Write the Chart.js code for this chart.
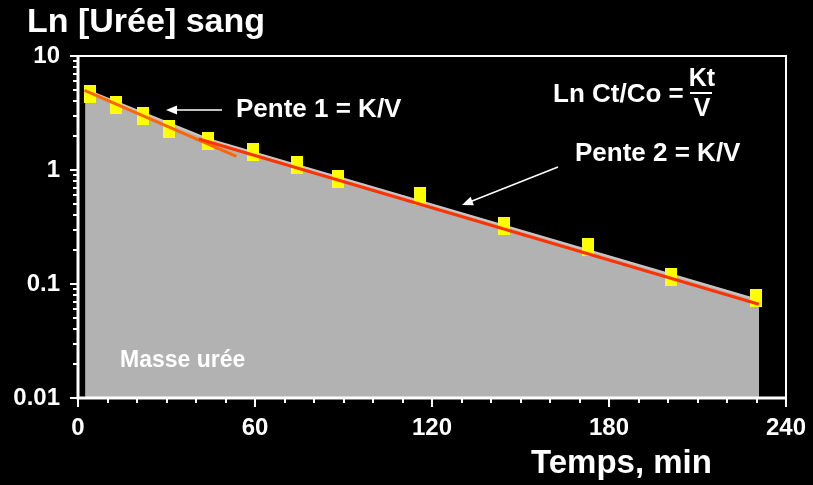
<!DOCTYPE html>
<html>
<head>
<meta charset="utf-8">
<script src="https://cdn.jsdelivr.net/npm/chart.js@4.4.1/dist/chart.umd.min.js"></script>
<style>
  html, body { margin: 0; padding: 0; background: #000; }
  #wrap { width: 813px; height: 485px; }
</style>
</head>
<body>
<div id="wrap"><canvas id="chart" width="813" height="485"></canvas></div>
<script>
// Urée sanguine pendant la séance (échelle log)
var sampleTimes = [4.2, 13, 22, 30.8, 44.2, 59.3, 74.4, 88, 116.1, 144.5, 172.8, 201, 229.7];
var ureeLevels = [4.61, 3.72, 2.96, 2.28, 1.81, 1.43, 1.10, 0.834, 0.590, 0.321, 0.211, 0.115, 0.075];

// contour de la zone "Masse urée"
var areaTimes = [2.4, 44.3, 230.9];
var areaLevels = [5.1, 1.86, 0.072];

// droites de pente
var pente1Times = [2.2, 53.7];
var pente1Levels = [5.0, 1.32];
var pente2Times = [41, 230.8];
var pente2Levels = [1.87, 0.0664];

var xTickValues = [0, 60, 120, 180, 240];
var yTickValues = [0.01, 0.1, 1, 10];
var yTickLabels = ['0.01', '0.1', '1', '10'];

var FONT = '"Liberation Sans", Arial, Helvetica, sans-serif';

function toPoints(xs, ys) {
    return xs.map(function (x, i) { return { x: x, y: ys[i] }; });
}

// marqueur rectangulaire jaune
function makeMarker() {
    var c = document.createElement('canvas');
    c.width = 12;
    c.height = 18;
    var g = c.getContext('2d');
    g.fillStyle = '#ffff00';
    g.fillRect(0, 0, 12, 18);
    return c;
}

function arrow(ctx, x1, y1, x2, y2) {
    var ang = Math.atan2(y2 - y1, x2 - x1);
    var len = 11, half = 4.5;
    ctx.beginPath();
    ctx.moveTo(x1, y1);
    ctx.lineTo(x2 - Math.cos(ang) * len * 0.8, y2 - Math.sin(ang) * len * 0.8);
    ctx.stroke();
    ctx.beginPath();
    ctx.moveTo(x2, y2);
    ctx.lineTo(x2 - Math.cos(ang) * len - Math.sin(ang) * half, y2 - Math.sin(ang) * len + Math.cos(ang) * half);
    ctx.lineTo(x2 - Math.cos(ang) * len + Math.sin(ang) * half, y2 - Math.sin(ang) * len - Math.cos(ang) * half);
    ctx.closePath();
    ctx.fill();
}

var background = {
    id: 'background',
    beforeDraw: function (chart) {
        var ctx = chart.ctx;
        ctx.save();
        ctx.fillStyle = '#000';
        ctx.fillRect(0, 0, chart.width, chart.height);
        ctx.restore();
    }
};

var frameAndText = {
    id: 'frameAndText',
    afterDraw: function (chart) {
        var ctx = chart.ctx;
        var area = chart.chartArea;
        var xs = chart.scales.x, ys = chart.scales.y;
        ctx.save();
        ctx.strokeStyle = '#fff';
        ctx.fillStyle = '#fff';

        // cadre
        ctx.lineWidth = 2;
        ctx.beginPath();
        ctx.moveTo(area.left, area.top);
        ctx.lineTo(area.right, area.top);
        ctx.lineTo(area.right, area.bottom);
        ctx.stroke();
        ctx.lineWidth = 3;
        ctx.beginPath();
        ctx.moveTo(area.left, area.top - 1);
        ctx.lineTo(area.left, area.bottom);
        ctx.lineTo(area.right + 1, area.bottom);
        ctx.stroke();

        // graduations
        ctx.lineWidth = 2;
        ctx.beginPath();
        for (var t = 0; t <= 240; t += 10) {
            var px = Math.round(xs.getPixelForValue(t));
            ctx.moveTo(px, area.bottom);
            ctx.lineTo(px, area.bottom + (t % 60 === 0 ? 9 : 5));
        }
        yTickValues.forEach(function (d, i) {
            var py = Math.round(ys.getPixelForValue(d));
            ctx.moveTo(area.left, py);
            ctx.lineTo(area.left - 8, py);
            if (i < yTickValues.length - 1) {
                for (var k = 2; k <= 9; k++) {
                    var pm = Math.round(ys.getPixelForValue(d * k));
                    ctx.moveTo(area.left, pm);
                    ctx.lineTo(area.left - 5, pm);
                }
            }
        });
        ctx.stroke();

        // textes
        ctx.textBaseline = 'alphabetic';
        ctx.textAlign = 'left';
        ctx.font = 'bold 34px ' + FONT;
        ctx.fillText('Ln [Urée] sang', 27, 32);
        ctx.font = 'bold 33px ' + FONT;
        ctx.fillText('Temps, min', 531, 473);

        ctx.font = 'bold 23px ' + FONT;
        ctx.fillText('Masse urée', 120, 367);

        ctx.font = 'bold 26px ' + FONT;
        ctx.fillText('Pente 1 = K/V', 236, 117);
        ctx.fillText('Pente 2 = K/V', 575, 161);
        ctx.fillText('Ln Ct/Co =', 553, 102);

        ctx.font = 'bold 25px ' + FONT;
        ctx.textAlign = 'center';
        ctx.fillText('Kt', 702, 86);
        ctx.fillText('V', 702, 116);
        ctx.fillRect(690, 92, 22, 2);

        // flèches
        ctx.lineWidth = 1.5;
        arrow(ctx, 222, 110, 166, 110);
        arrow(ctx, 558, 167, 462, 205);

        ctx.restore();
    }
};

var ctx = document.getElementById('chart');

new Chart(ctx, {
    type: 'scatter',
    data: {
        datasets: [
            {
                label: 'Pente 2',
                data: toPoints(pente2Times, pente2Levels),
                showLine: true,
                borderColor: '#ff3300',
                borderWidth: 3,
                pointRadius: 0,
                fill: false
            },
            {
                label: 'Pente 1',
                data: toPoints(pente1Times, pente1Levels),
                showLine: true,
                borderColor: '#ff6600',
                borderWidth: 3,
                pointRadius: 0,
                fill: false
            },
            {
                label: 'Urée',
                data: toPoints(sampleTimes, ureeLevels),
                showLine: false,
                pointStyle: makeMarker(),
                pointRadius: 6,
                backgroundColor: '#ffff00',
                borderColor: '#ffff00'
            },
            {
                label: 'Masse urée',
                data: toPoints(areaTimes, areaLevels),
                showLine: true,
                borderColor: '#c6c6c6',
                borderWidth: 2,
                backgroundColor: '#b2b2b2',
                pointRadius: 0,
                fill: 'start'
            }
        ]
    },
    options: {
        responsive: false,
        animation: false,
        layout: { padding: { top: 56, right: 27, left: 0, bottom: 0 } },
        plugins: {
            legend: { display: false },
            tooltip: { enabled: false },
            title: { display: false }
        },
        scales: {
            x: {
                type: 'linear',
                min: 0,
                max: 240,
                afterBuildTicks: function (scale) {
                    scale.ticks = xTickValues.map(function (v) { return { value: v }; });
                },
                afterFit: function (scale) {
                    scale.height = 87;
                    scale.paddingLeft = 0;
                    scale.paddingRight = 0;
                },
                grid: { display: false, drawTicks: false },
                border: { display: false },
                ticks: {
                    color: '#fff',
                    padding: 16,
                    maxRotation: 0,
                    font: { family: FONT, size: 24, weight: 'bold' }
                }
            },
            y: {
                type: 'logarithmic',
                min: 0.01,
                max: 10,
                afterBuildTicks: function (scale) {
                    scale.ticks = yTickValues.map(function (v) { return { value: v }; });
                },
                afterFit: function (scale) {
                    scale.width = 78;
                    scale.paddingTop = 0;
                    scale.paddingBottom = 0;
                },
                grid: { display: false, drawTicks: false },
                border: { display: false },
                ticks: {
                    color: '#fff',
                    padding: 18,
                    font: { family: FONT, size: 24, weight: 'bold' },
                    callback: function (value) {
                        var i = yTickValues.indexOf(value);
                        return i >= 0 ? yTickLabels[i] : '';
                    }
                }
            }
        }
    },
    plugins: [background, frameAndText]
});
</script>
</body>
</html>
